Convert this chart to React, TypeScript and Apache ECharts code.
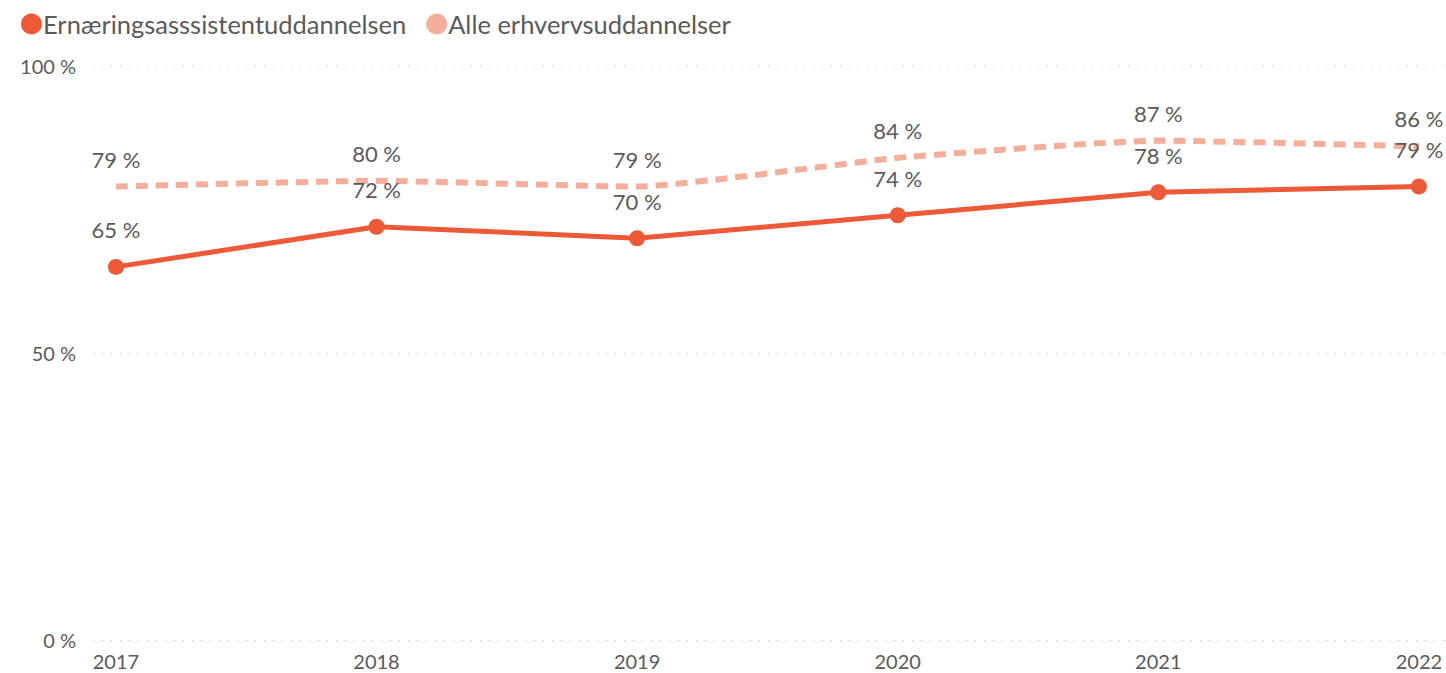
import React, { useEffect, useRef } from "react";
import * as echarts from "echarts";

const years = [2017, 2018, 2019, 2020, 2021, 2022];
const ernaering = [65, 72, 70, 74, 78, 79];
const alle = [79, 80, 79, 84, 87, 86];
const yTicks = [0, 50, 100];
const seriesNames = ["Ernæringsasssistentuddannelsen", "Alle erhvervsuddannelser"];

const FONT = "Lato, 'Noto Sans', sans-serif";
const TXT = "#5a5a5a";
const C1 = "#ee5a37";
const C2 = "#f4ae9a";

export default function App() {
  const ref = useRef<HTMLDivElement>(null);
  useEffect(() => {
    if (!ref.current) return;
    const chart = echarts.init(ref.current, undefined, { renderer: "svg" });
    chart.setOption({
      animation: false,
      textStyle: { fontFamily: FONT },
      legend: {
        left: 16,
        top: 6,
        icon: "circle",
        itemWidth: 21,
        itemHeight: 21,
        itemGap: 20,
        textStyle: { fontSize: 25.5, color: TXT, fontFamily: FONT, padding: [0, 0, 0, -4] },
        data: [
          { name: seriesNames[0], itemStyle: { color: C1, opacity: 1 } },
          { name: seriesNames[1], itemStyle: { color: C2, opacity: 1 } },
        ],
      },
      grid: { left: 93, right: 0, top: 66, bottom: 33 },
      xAxis: {
        type: "value",
        min: 2016.912,
        max: 2022.104,
        axisLine: { show: false },
        axisTick: { show: false },
        splitLine: { show: false },
        axisLabel: {
          customValues: years,
          formatter: (v: number) => String(v),
          color: TXT,
          fontSize: 20,
          fontFamily: FONT,
          margin: 11,
        },
      },
      yAxis: {
        type: "value",
        min: 0,
        max: 100,
        interval: 50,
        axisLine: { show: false },
        axisTick: { show: false },
        axisLabel: {
          customValues: yTicks,
          formatter: (v: number) => v + " %",
          color: TXT,
          fontSize: 20,
          fontFamily: FONT,
          margin: 17,
        },
        splitLine: { lineStyle: { type: [1, 8], color: "#bbbbbb", width: 1 } },
      },
      series: [
        {
          name: seriesNames[0],
          type: "line",
          data: years.map((y, i) => [y, ernaering[i]]),
          color: C1,
          symbol: "circle",
          symbolSize: 16,
          lineStyle: { width: 5, color: C1 },
          itemStyle: { color: C1 },
          z: 3,
          label: {
            show: true,
            position: "top",
            distance: 18,
            formatter: (p: any) => p.value[1] + " %",
            color: TXT,
            fontSize: 22,
            fontFamily: FONT,
          },
        },
        {
          name: seriesNames[1],
          type: "line",
          data: years.map((y, i) => [y, alle[i]]),
          color: C2,
          smooth: 0.15,
          symbol: "circle",
          symbolSize: 1,
          itemStyle: { color: "rgba(0,0,0,0)" },
          lineStyle: { width: 6, color: C2, type: [12, 8] },
          z: 2,
          label: {
            show: true,
            position: "top",
            distance: 16,
            formatter: (p: any) => p.value[1] + " %",
            color: TXT,
            fontSize: 22,
            fontFamily: FONT,
          },
        },
      ],
    });
    return () => chart.dispose();
  }, []);
  return <div ref={ref} style={{ width: 1446, height: 673, position: "absolute", left: 0, top: 0 }} />;
}
